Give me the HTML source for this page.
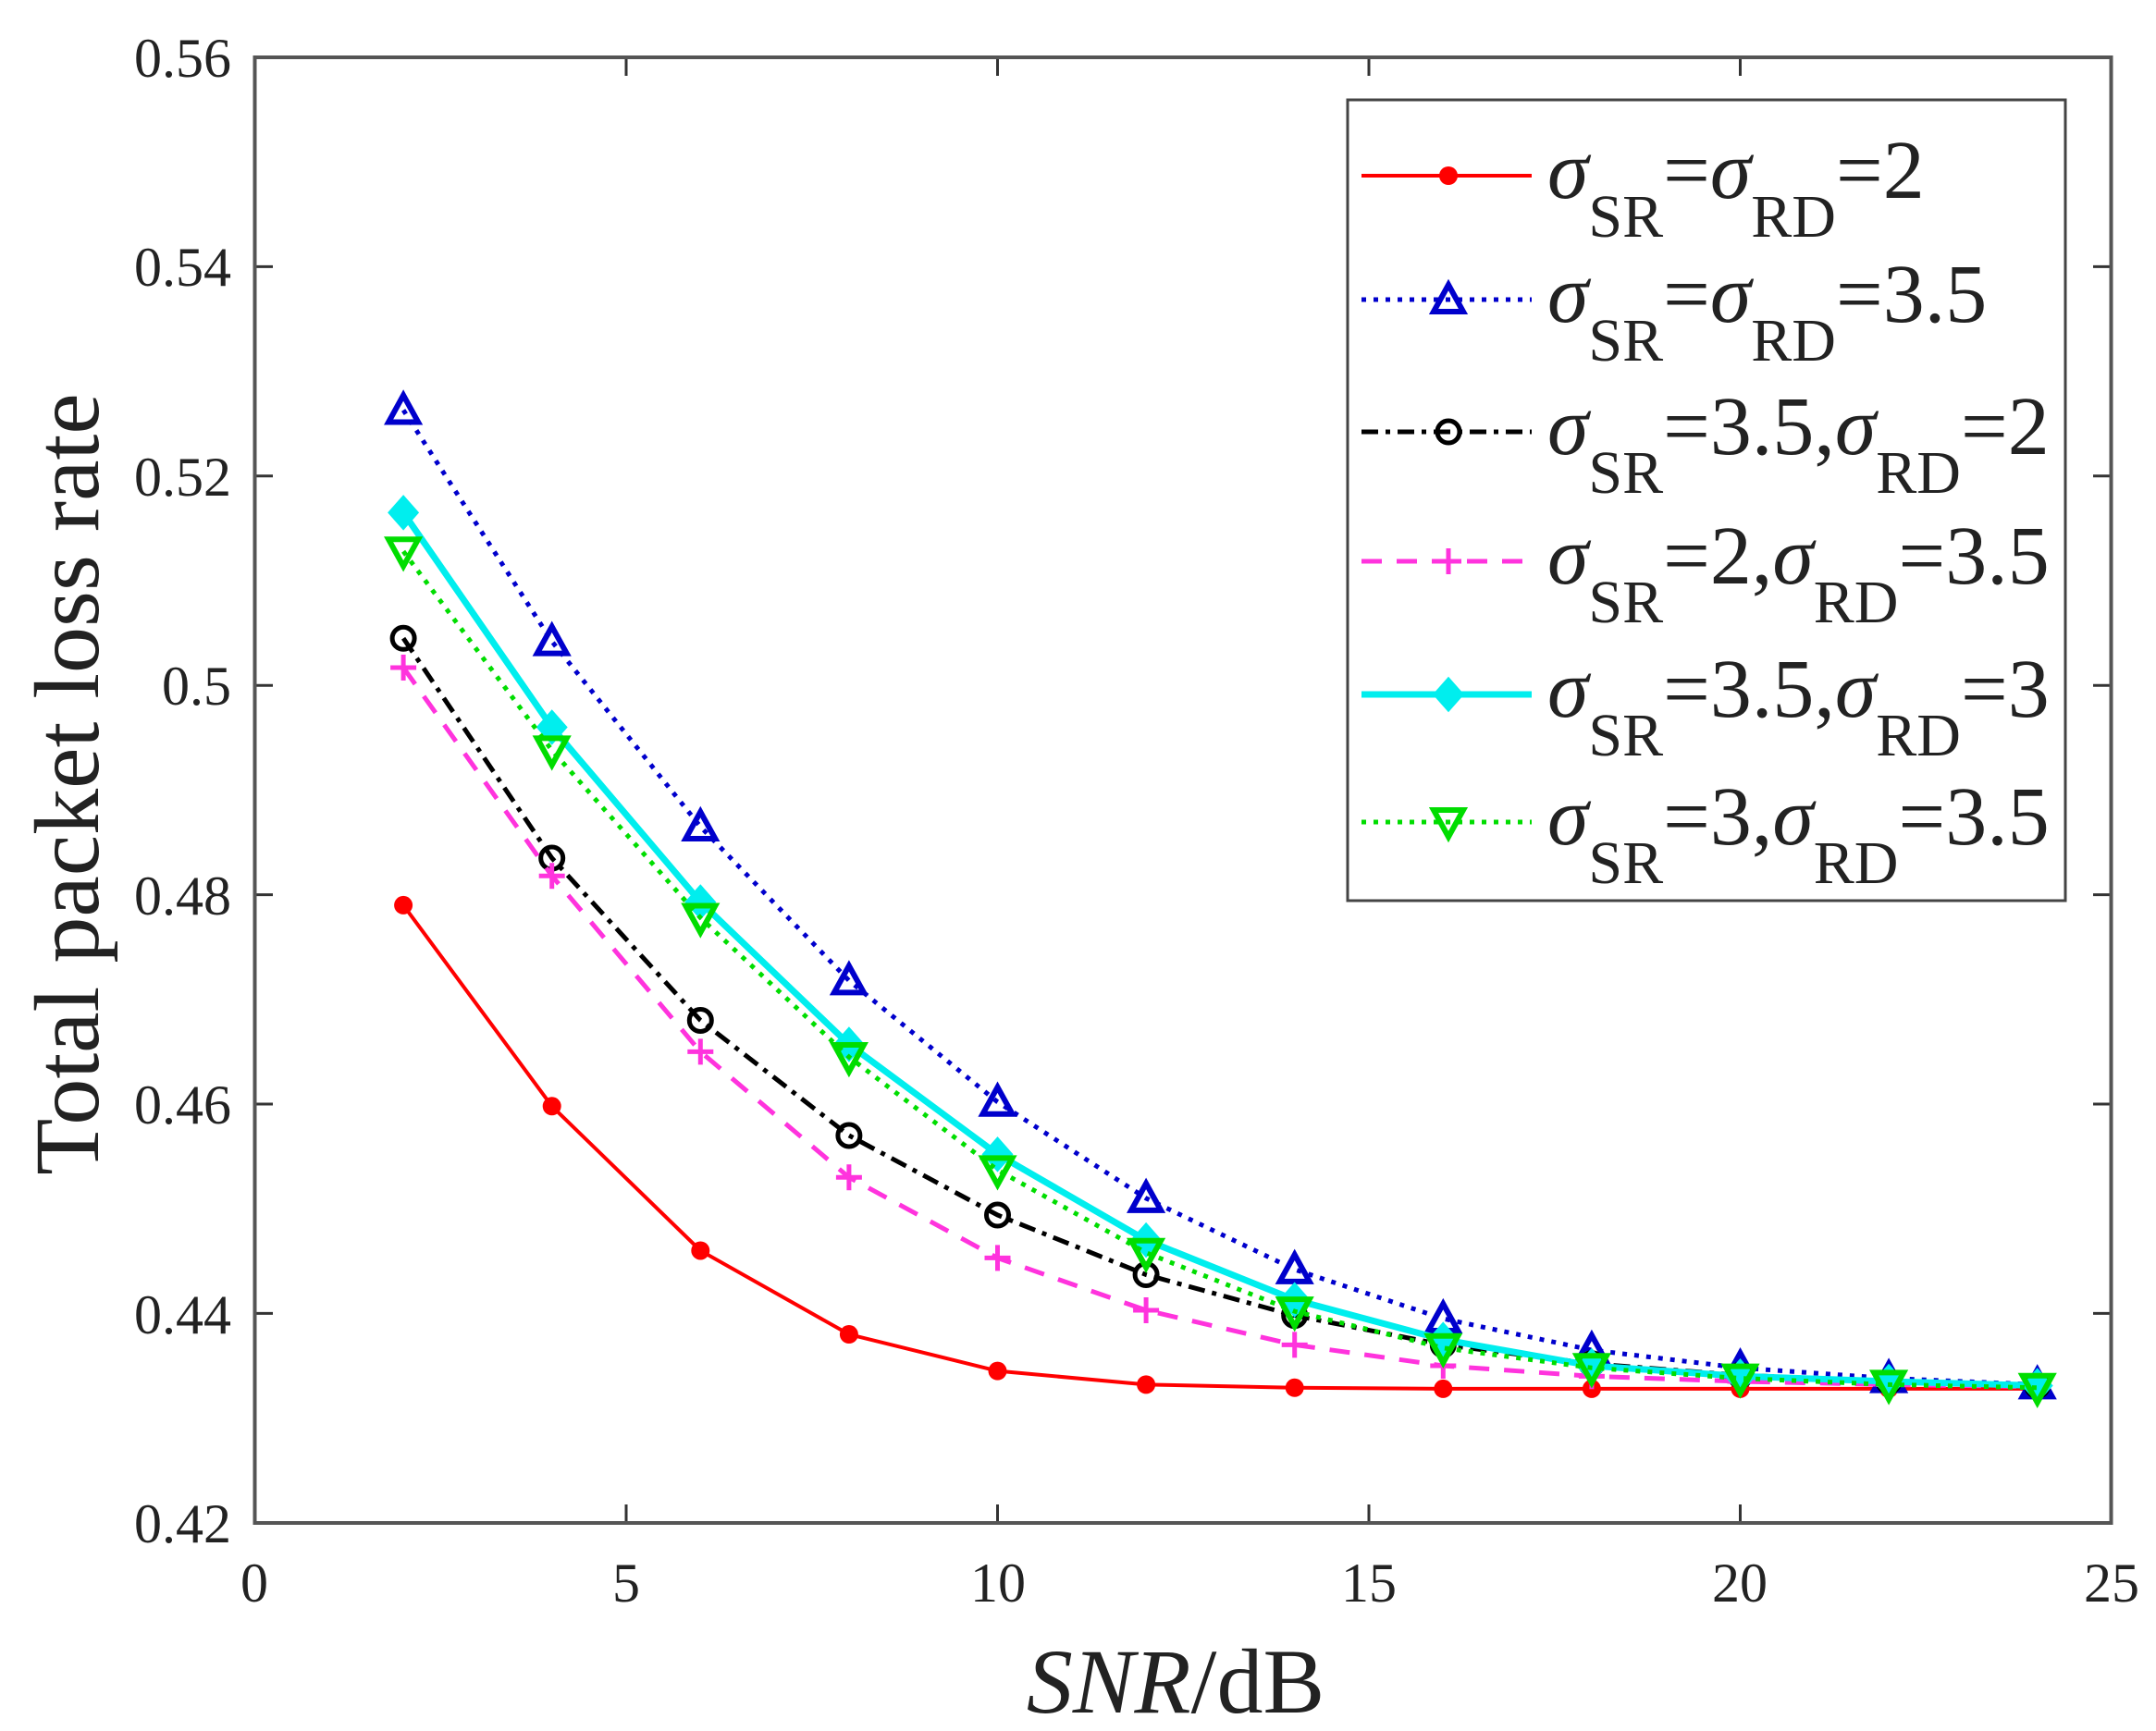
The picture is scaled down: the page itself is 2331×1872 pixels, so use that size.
<!DOCTYPE html>
<html><head><meta charset="utf-8"><style>html,body{margin:0;padding:0;background:#fff}svg{display:block}</style></head>
<body>
<svg id="s" width="2331" height="1872" viewBox="0 0 2331 1872" xmlns="http://www.w3.org/2000/svg" font-family="Liberation Serif, serif">
<rect width="2331" height="1872" fill="#fff"/>
<g id="ticks" stroke="#333" stroke-width="3"></g>
<g font-size="60" fill="#222" text-anchor="end">
<text x="250" y="83">0.56</text>
<text x="250" y="309">0.54</text>
<text x="250" y="536">0.52</text>
<text x="250" y="762">0.5</text>
<text x="250" y="989">0.48</text>
<text x="250" y="1215">0.46</text>
<text x="250" y="1442">0.44</text>
<text x="250" y="1668">0.42</text>
</g>
<g font-size="60" fill="#222" text-anchor="middle">
<text x="275" y="1732">0</text>
<text x="677" y="1732">5</text>
<text x="1079" y="1732">10</text>
<text x="1480" y="1732">15</text>
<text x="1881" y="1732">20</text>
<text x="2283" y="1732">25</text>
</g>
<text x="1271" y="1852" font-size="100" text-anchor="middle" fill="#222"><tspan font-style="italic">SNR</tspan>/dB</text>
<text transform="translate(106,848) rotate(-90)" font-size="100" text-anchor="middle" fill="#222">Total packet loss rate</text>
<g id="series"></g>
<rect x="275.5" y="62" width="2007" height="1585" fill="none" stroke="#555" stroke-width="4"/>
<rect x="1457" y="108" width="776" height="866" fill="#fff" stroke="#444" stroke-width="3"/>
<g id="leg"></g>
<g font-size="90" fill="#222">
<text x="1673" y="214"><tspan font-style="italic">σ</tspan><tspan font-size="66" dy="42">SR</tspan><tspan dy="-42">=</tspan><tspan font-style="italic">σ</tspan><tspan font-size="66" dy="42">RD</tspan><tspan dy="-42">=2</tspan></text>
<text x="1673" y="348"><tspan font-style="italic">σ</tspan><tspan font-size="66" dy="42">SR</tspan><tspan dy="-42">=</tspan><tspan font-style="italic">σ</tspan><tspan font-size="66" dy="42">RD</tspan><tspan dy="-42">=3.5</tspan></text>
<text x="1673" y="491"><tspan font-style="italic">σ</tspan><tspan font-size="66" dy="42">SR</tspan><tspan dy="-42">=3.5,</tspan><tspan font-style="italic">σ</tspan><tspan font-size="66" dy="42">RD</tspan><tspan dy="-42">=2</tspan></text>
<text x="1673" y="631"><tspan font-style="italic">σ</tspan><tspan font-size="66" dy="42">SR</tspan><tspan dy="-42">=2,</tspan><tspan font-style="italic">σ</tspan><tspan font-size="66" dy="42">RD</tspan><tspan dy="-42">=3.5</tspan></text>
<text x="1673" y="775"><tspan font-style="italic">σ</tspan><tspan font-size="66" dy="42">SR</tspan><tspan dy="-42">=3.5,</tspan><tspan font-style="italic">σ</tspan><tspan font-size="66" dy="42">RD</tspan><tspan dy="-42">=3</tspan></text>
<text x="1673" y="913"><tspan font-style="italic">σ</tspan><tspan font-size="66" dy="42">SR</tspan><tspan dy="-42">=3,</tspan><tspan font-style="italic">σ</tspan><tspan font-size="66" dy="42">RD</tspan><tspan dy="-42">=3.5</tspan></text>
</g>
</svg>
<script>
var NS="http://www.w3.org/2000/svg";
function el(p,t,a){var e=document.createElementNS(NS,t);for(var k in a)e.setAttribute(k,a[k]);p.appendChild(e);return e;}
var X=function(x){return 275.5+x*80.3}, Y=function(v){return 62+(0.56-v)/0.02*226.4};
var tk=document.getElementById('ticks');
for(var i=0;i<=7;i++){var y=62+i*226.4;el(tk,'line',{x1:275.5,y1:y,x2:295,y2:y});el(tk,'line',{x1:2283,y1:y,x2:2263,y2:y});}
for(var i=0;i<=5;i++){var x=275.5+i*401.5;el(tk,'line',{x1:x,y1:1647,x2:x,y2:1627});el(tk,'line',{x1:x,y1:62,x2:x,y2:82});}
var xs=[2,4,6,8,10,12,14,16,18,20,22,24];
var S=[
{c:'#ff0000',w:4,d:'',m:'dot',v:[0.479,0.4598,0.446,0.438,0.4345,0.4332,0.4329,0.4328,0.4328,0.4328,0.4328,0.4328]},
{c:'#0000cc',w:5,d:'5 8',m:'tri',v:[0.5263,0.5042,0.4865,0.4718,0.4602,0.451,0.4442,0.4395,0.4365,0.4348,0.4338,0.4332]},
{c:'#000',w:5,d:'18 8 5 8',m:'circ',v:[0.5045,0.4835,0.468,0.457,0.4494,0.4437,0.4398,0.437,0.4352,0.4341,0.4335,0.4331]},
{c:'#ff33dd',w:5,d:'22 16',m:'plus',v:[0.5017,0.4818,0.465,0.453,0.4453,0.4403,0.437,0.435,0.434,0.4335,0.4332,0.433]},
{c:'#00eeee',w:7,d:'',m:'dia',v:[0.5165,0.496,0.4793,0.4657,0.4552,0.447,0.4413,0.4375,0.435,0.434,0.4335,0.4331]},
{c:'#00dd00',w:5,d:'5 8',m:'dtri',v:[0.5128,0.4938,0.4778,0.4645,0.4537,0.4458,0.4402,0.4367,0.4348,0.4338,0.4332,0.4329]}
];
function mk(g,m,x,y,c){
 if(m=='dot')el(g,'circle',{cx:x,cy:y,r:10,fill:c});
 if(m=='circ')el(g,'circle',{cx:x,cy:y,r:12,fill:'none',stroke:c,'stroke-width':5});
 if(m=='tri')el(g,'polygon',{points:(x-16)+','+(y+13)+' '+(x+16)+','+(y+13)+' '+x+','+(y-16),fill:'none',stroke:c,'stroke-width':6});
 if(m=='dtri')el(g,'polygon',{points:(x-16)+','+(y-13)+' '+(x+16)+','+(y-13)+' '+x+','+(y+16),fill:'none',stroke:c,'stroke-width':6});
 if(m=='dia')el(g,'polygon',{points:x+','+(y-17)+' '+(x+15)+','+y+' '+x+','+(y+17)+' '+(x-15)+','+y,fill:c,stroke:c,'stroke-width':3});
 if(m=='plus'){el(g,'line',{x1:x-14,y1:y,x2:x+14,y2:y,stroke:c,'stroke-width':5});el(g,'line',{x1:x,y1:y-14,x2:x,y2:y+14,stroke:c,'stroke-width':5});}
}
var g=document.getElementById('series'),lg=document.getElementById('leg');
var ly=[190,324,467,607,751,889];
S.forEach(function(s,k){
 var pts=xs.map(function(x,i){return X(x)+','+Y(s.v[i])}).join(' ');
 var a={points:pts,fill:'none',stroke:s.c,'stroke-width':s.w};if(s.d)a['stroke-dasharray']=s.d;
 el(g,'polyline',a);
 xs.forEach(function(x,i){mk(g,s.m,X(x),Y(s.v[i]),s.c)});
 var b={x1:1472,y1:ly[k],x2:1656,y2:ly[k],stroke:s.c,'stroke-width':s.w};if(s.d)b['stroke-dasharray']=s.d;
 el(lg,'line',b);mk(lg,s.m,1566,ly[k],s.c);
});
</script>
</body></html>
